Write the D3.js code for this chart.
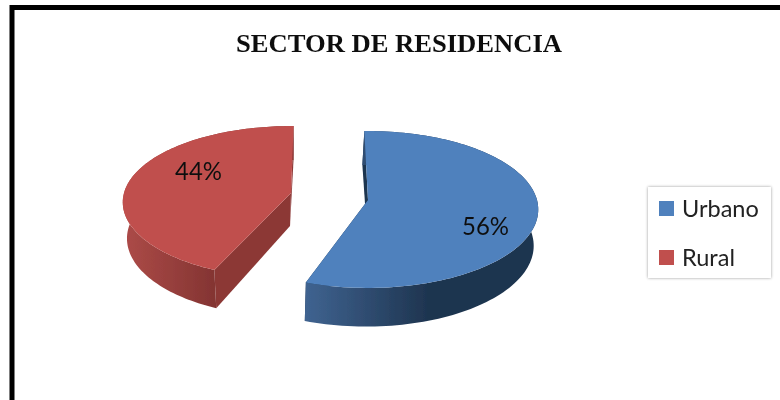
<!DOCTYPE html>
<html><head><meta charset="utf-8">
<script src="https://cdn.jsdelivr.net/npm/d3@7"></script>
<style>html,body{margin:0;padding:0;background:#fff;overflow:hidden}svg{display:block}</style>
</head><body><svg id="c" width="780" height="400"></svg>
<script>
const categories = ["Urbano", "Rural"];
const values = [56, 44];
const labels = ["56%", "44%"];
const titleText = "SECTOR DE RESIDENCIA";

const topColors = ["#4f81bd", "#c0504d"];
const wallFrom = ["#3f6390", "#ad4b48"];
const wallTo = ["#1e344f", "#833432"];
const radialColor = ["#1e344f", "#8c3836"];
const centers = [[368, 200], [291, 193]];
const radiusX = [169, 167];
const radiusY = [77.3, 75];
const floorShift = [-2, 0];
const floorScale = [0.985, 0.975];
const labelPos = [[485.5, 226], [198.5, 171]];
const startTurnDeg = [-1.4, 2.5];
const endTurnDeg = [-2.6, 1.0];

const svg = d3.select("#c");
const defs = svg.append("defs");
defs.append("filter").attr("id", "soft").append("feGaussianBlur").attr("stdDeviation", 0.45);
const sh = defs.append("filter").attr("id", "shadow").attr("x", "-10%").attr("y", "-10%").attr("width", "120%").attr("height", "120%");
sh.append("feDropShadow").attr("dx", 0).attr("dy", 0).attr("stdDeviation", 1.6).attr("flood-color", "#000").attr("flood-opacity", 0.4);

svg.append("path").attr("d", "M12,410V7.5H790").attr("fill", "none").attr("stroke", "#000").attr("stroke-width", 5).attr("filter", "url(#soft)");

svg.append("text").attr("x", 399).attr("y", 52).attr("text-anchor", "middle")
  .attr("font-family", "Liberation Serif").attr("font-weight", "bold").attr("font-size", 25)
  .attr("textLength", 326).attr("lengthAdjust", "spacingAndGlyphs")
  .attr("fill", "#111").attr("filter", "url(#soft)").text(titleText);

const pie = d3.pie().sort(null).value(d => d)(values);
const k = 0.121;

function project(theta, i, floor) {
  const u = Math.sin(theta), v = -Math.cos(theta), w = 1 - k * v;
  const [cx, cy] = centers[i];
  const rx = radiusX[i], ry = radiusY[i];
  const xs = d3.scaleLinear().domain([-1, 1]).range(floor
    ? [cx + floorShift[i] - rx * floorScale[i], cx + floorShift[i] + rx * floorScale[i]]
    : [cx - rx, cx + rx]);
  const ys = d3.scaleLinear().domain([-1, 1]).range(floor
    ? [cy + 36 - ry * 1.03, cy + 36 + ry * 1.03]
    : [cy - ry, cy + ry]);
  return [xs(u / w), ys(v / w)];
}
function hub(i, floor) {
  const [cx, cy] = centers[i];
  return floor ? [cx - 1, cy + 33] : [cx, cy];
}
const line = d3.line();
const g = svg.append("g").attr("filter", "url(#soft)");

pie.forEach((p, i) => {
  const a0 = p.startAngle + startTurnDeg[i] * Math.PI / 180;
  const a1 = p.endAngle + endTurnDeg[i] * Math.PI / 180;
  const thetas = d3.range(0, 121).map(n => d3.interpolateNumber(a0, a1)(n / 120));
  const topArc = thetas.map(t => project(t, i, false));
  const floorArc = thetas.map(t => project(t, i, true));

  const gid = "wall" + i;
  const grad = defs.append("linearGradient").attr("id", gid).attr("gradientUnits", "userSpaceOnUse")
    .attr("x1", i === 0 ? 306 : d3.min(topArc, d => d[0])).attr("x2", i === 0 ? 430 : 216).attr("y1", 0).attr("y2", 0);
  grad.append("stop").attr("offset", 0).attr("stop-color", wallFrom[i]);
  grad.append("stop").attr("offset", 1).attr("stop-color", wallTo[i]);

  [[topArc[0], floorArc[0]], [topArc[120], floorArc[120]]].forEach(([a, b]) => {
    g.append("path").attr("fill", radialColor[i])
      .attr("d", line([a, hub(i, false), hub(i, true), b]) + "Z");
  });
  g.append("path").attr("fill", `url(#${gid})`)
    .attr("d", line(topArc.concat(floorArc.slice().reverse())) + "Z");
  g.append("path").attr("fill", topColors[i])
    .attr("d", line([hub(i, false)].concat(topArc)) + "Z");
  g.append("text").attr("x", labelPos[i][0]).attr("y", labelPos[i][1]).attr("dy", "0.35em")
    .attr("text-anchor", "middle").attr("font-family", "Lato").attr("font-size", 25)
    .attr("textLength", 47).attr("lengthAdjust", "spacingAndGlyphs")
    .attr("fill", "#111").text(labels[i]);
});

svg.append("rect").attr("x", 648).attr("y", 187).attr("width", 123).attr("height", 91)
  .attr("fill", "#fff").attr("filter", "url(#shadow)");
const legendY = d3.scalePoint().domain(categories).range([208.5, 257.5]);
const lg = svg.append("g").attr("filter", "url(#soft)");
categories.forEach((c, i) => {
  lg.append("rect").attr("x", 659).attr("y", legendY(c) - 7.5).attr("width", 15).attr("height", 15).attr("fill", topColors[i]);
  lg.append("text").attr("x", 682).attr("y", legendY(c)).attr("dy", "0.35em")
    .attr("font-family", "Lato").attr("font-size", 23.5).attr("fill", "#222").text(c);
});
</script></body></html>
